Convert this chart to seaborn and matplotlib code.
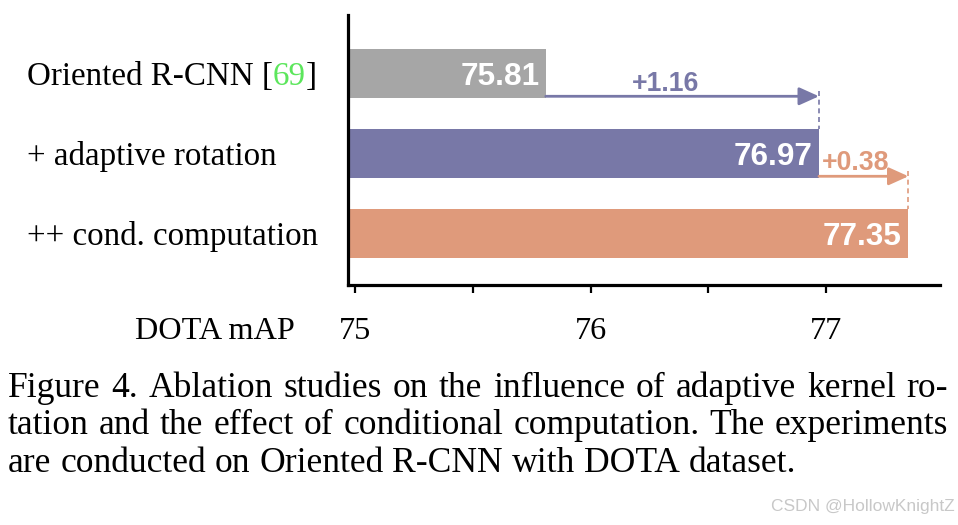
import numpy as np
import pandas as pd
import matplotlib
matplotlib.use("Agg")
import matplotlib.pyplot as plt
import matplotlib.transforms as mtransforms
import seaborn as sns

# ---------------- data ----------------
methods = ["Oriented R-CNN [69]", "+ adaptive rotation", "++ cond. computation"]
mAP = [75.81, 76.97, 77.35]
gains = ["+1.16", "+0.38"]
bar_colors = ["#a6a6a6", "#7878a7", "#df9a7b"]
xticks = [75, 75.5, 76, 76.5, 77]
xtick_labels = ["75", "", "76", "", "77"]
xlabel = "DOTA mAP"
caption_lines = [
    "Figure 4. Ablation studies on the influence of adaptive kernel ro-",
    "tation and the effect of conditional computation. The experiments",
    "are conducted on Oriented R-CNN with DOTA dataset.",
]
watermark = "CSDN @HollowKnightZ"

# ---------------- figure ----------------
W, H = 958, 525
sns.set_style("white")
plt.rcParams["font.family"] = ["Liberation Serif", "DejaVu Serif"]
plt.rcParams["text.color"] = "black"
plt.rcParams["xtick.color"] = "black"
plt.rcParams["axes.labelcolor"] = "black"
fig = plt.figure(figsize=(W / 100, H / 100), dpi=100)
ax = fig.add_axes([348 / W, 1 - 285 / H, (940 - 348) / W, (285 - 15) / H])

df = pd.DataFrame({"method": methods, "mAP": mAP})
sns.barplot(data=df, x="mAP", y="method", hue="method", order=methods,
            hue_order=methods, palette=bar_colors, orient="h", width=0.61,
            saturation=1, legend=False, linewidth=0, ax=ax)

ax.set_xlim(74.9703, 77.484)
ax.set_ylim(2.644, -0.731)
ax.set_xlabel("")
ax.set_ylabel("")
for s in ["top", "right"]:
    ax.spines[s].set_visible(False)
for s in ["left", "bottom"]:
    ax.spines[s].set_linewidth(2.3)
    ax.spines[s].set_color("black")
ax.set_xticks(xticks)
ax.set_xticklabels(xtick_labels, fontsize=23.2, family="Liberation Serif",
                   color="black")
ax.tick_params(axis="x", direction="out", length=5.8, width=1.6, pad=17,
               colors="black", bottom=True)
ax.tick_params(axis="y", left=False, labelleft=False)

SERIF = "Liberation Serif"
SANS = "Liberation Sans"
px = 72 / 100  # points per pixel

# value labels inside bars
for i, v in enumerate(mAP):
    ax.annotate(f"{v:.2f}", xy=(v, i), xytext=(-6.5 * px, -11.3 * px),
                textcoords="offset points", ha="right", va="baseline",
                color="white", fontsize=22.7, fontweight="bold", family=SANS)

# gain arrows
for k, g in enumerate(gains):
    x0, x1 = mAP[k], mAP[k + 1]
    y_arrow = k + 0.285
    col = bar_colors[k + 1]
    ax.annotate("", xy=(x1, y_arrow), xytext=(x0, y_arrow),
                arrowprops=dict(arrowstyle="-|>,head_length=0.6,head_width=0.27",
                                mutation_scale=20, lw=2.0, color=col,
                                shrinkA=0, shrinkB=0))
    ax.plot([x1, x1], [y_arrow - 0.06, k + 1 - 0.305], color=col, lw=1.2,
            ls=(0, (3, 2.2)), solid_capstyle="butt")
    if k == 0:
        ax.annotate(g, xy=((x0 + x1) / 2, k), xytext=(-17 * px, -17.5 * px),
                    textcoords="offset points", ha="center", va="baseline",
                    color=col, fontsize=19.2, fontweight="bold", family=SANS)
    else:
        ax.annotate(g, xy=(x0, k), xytext=(3 * px, -16.5 * px),
                    textcoords="offset points", ha="left", va="baseline",
                    color=col, fontsize=19.2, fontweight="bold", family=SANS)

# category labels (left aligned, with green citation)
fig.canvas.draw()
renderer = fig.canvas.get_renderer()
ytrans = mtransforms.blended_transform_factory(fig.transFigure, ax.transData)
for i, m in enumerate(methods):
    off = mtransforms.ScaledTranslation(0, -11.5 / 100, fig.dpi_scale_trans)
    tr = ytrans + off
    if "[" in m:
        pre, rest = m.split("[", 1)
        num, post = rest.split("]", 1)
        parts = [(pre + "[", "black"), (num, "#5ce65c"), ("]" + post, "black")]
    else:
        parts = [(m, "black")]
    xpx = 27
    for txt, col in parts:
        t = fig.text(xpx / W, i, txt, transform=tr, ha="left", va="baseline",
                     fontsize=23.8, family=SERIF, color=col)
        fig.canvas.draw()
        xpx += t.get_window_extent(renderer).width

fig.text(135 / W, 1 - 339 / H, xlabel, ha="left", va="baseline",
         fontsize=23.2, family=SERIF, color="black")

# caption (justified)
cap_fs = 25.0
probe = fig.text(0, 0, caption_lines[-1], fontsize=cap_fs, family=SERIF)
fig.canvas.draw()
wlast = probe.get_window_extent(renderer).width
probe.remove()
cap_fs = cap_fs * (787 / wlast)
baselines = [396.7, 434.2, 471.7]
x0c, x1c = 8, 948
for li, (line, bl) in enumerate(zip(caption_lines, baselines)):
    words = line.split(" ")
    texts = [fig.text(0, 1 - bl / H, w, fontsize=cap_fs, family=SERIF,
                      ha="left", va="baseline", color="black") for w in words]
    fig.canvas.draw()
    widths = [t.get_window_extent(renderer).width for t in texts]
    if li < len(caption_lines) - 1:
        gap = (x1c - x0c - sum(widths)) / (len(words) - 1)
    else:
        gap = 0.25 * cap_fs * 100 / 72
    x = x0c
    for t, w in zip(texts, widths):
        t.set_x(x / W)
        x += w + gap

fig.text(955 / W, 1 - 511.5 / H, watermark, ha="right", va="baseline",
         fontsize=12.5, family=SANS, color="#c8c8c8")

fig.savefig("out.png", dpi=100)
